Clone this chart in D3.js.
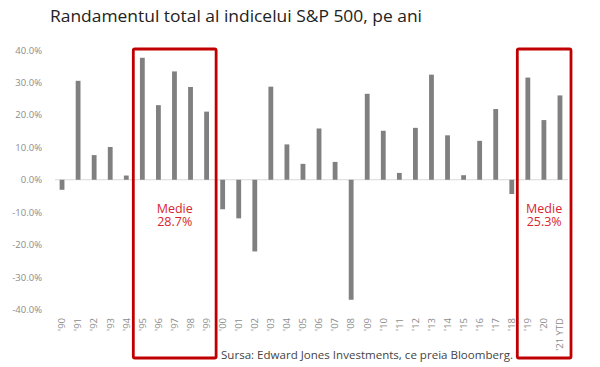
<!DOCTYPE html>
<html>
<head>
<meta charset="utf-8">
<script src="https://cdn.jsdelivr.net/npm/d3@7"></script>
<style>
  html, body { margin: 0; padding: 0; background: #fff; }
  svg { display: block; }
</style>
</head>
<body>
<svg id="chart" width="600" height="367"></svg>
<script>
const years = ["'90","'91","'92","'93","'94","'95","'96","'97","'98","'99",
  "'00","'01","'02","'03","'04","'05","'06","'07","'08","'09",
  "'10","'11","'12","'13","'14","'15","'16","'17","'18","'19","'20","'21 YTD"];
const returns = [-3.1, 30.5, 7.6, 10.1, 1.3, 37.6, 23.0, 33.4, 28.6, 21.0,
  -9.1, -11.9, -22.1, 28.7, 10.9, 4.9, 15.8, 5.5, -37.0, 26.5,
  15.1, 2.1, 16.0, 32.4, 13.7, 1.4, 12.0, 21.8, -4.4, 31.5, 18.4, 26.0];
const yTicks = [40, 30, 20, 10, 0, -10, -20, -30, -40];
const periods = [
  { from: "'95", to: "'99", label: "Medie", value: "28.7%" },
  { from: "'19", to: "'21 YTD", label: "Medie", value: "25.3%" }
];
const titleText = "Randamentul total al indicelui S&P 500, pe ani";
const sourceText = "Sursa: Edward Jones Investments, ce preia Bloomberg.";

const svg = d3.select("#chart");
const x = d3.scaleBand().domain(years).range([54, 568]).paddingInner(0.7).paddingOuter(0.35);
const y = d3.scaleLinear().domain([-40, 40]).range([309.5, 50]);

// title
svg.append("text")
  .attr("x", 50).attr("y", 22)
  .attr("font-family", "Open Sans, sans-serif")
  .attr("font-size", 17)
  .attr("fill", "#222")
  .attr("textLength", 372)
  .attr("lengthAdjust", "spacingAndGlyphs")
  .text(titleText);

// y axis labels
const yAxis = d3.axisLeft(y).tickValues(yTicks).tickSize(0).tickPadding(0)
  .tickFormat(d => d.toFixed(1) + "%");
const yg = svg.append("g").attr("transform", "translate(42,0)").call(yAxis);
yg.select(".domain").remove();
yg.selectAll("text")
  .attr("font-family", "Open Sans, sans-serif")
  .attr("font-size", 9.5)
  .attr("fill", "#8c8c8c");

// zero line
svg.append("line")
  .attr("x1", 55).attr("x2", 568)
  .attr("y1", y(0)).attr("y2", y(0))
  .attr("stroke", "#d9d9d9").attr("stroke-width", 1.2);

// bars
svg.append("g").selectAll("rect")
  .data(years.map((yr, i) => ({ yr, v: returns[i] })))
  .join("rect")
  .attr("x", d => x(d.yr))
  .attr("width", x.bandwidth())
  .attr("y", d => y(Math.max(0, d.v)))
  .attr("height", d => Math.abs(y(d.v) - y(0)))
  .attr("fill", "#808080");

// x labels
const xAxis = d3.axisBottom(x).tickSize(0).tickPadding(0);
const xg = svg.append("g").call(xAxis);
xg.select(".domain").remove();
xg.selectAll(".tick text")
  .attr("transform", "translate(0,318) rotate(-90)")
  .attr("x", 0).attr("y", 0).attr("dy", "0.35em")
  .attr("text-anchor", "end")
  .attr("font-family", "Open Sans, sans-serif")
  .attr("font-size", 9.5)
  .attr("fill", "#8c8c8c");

// source
svg.append("text")
  .attr("x", 221).attr("y", 359)
  .attr("font-family", "Open Sans, sans-serif")
  .attr("font-size", 11.5)
  .attr("fill", "#444")
  .attr("textLength", 292)
  .attr("lengthAdjust", "spacingAndGlyphs")
  .text(sourceText);

// red boxes
const step = x.step();
periods.forEach((p, i) => {
  const x0 = x(p.from) - (step - x.bandwidth()) / 2 - 1 - (i === 1 ? 1.5 : 0);
  const x1 = x(p.to) + x.bandwidth() + (step - x.bandwidth()) / 2 + 1.5 + (i === 1 ? 1.5 : 0);
  svg.append("rect")
    .attr("x", x0).attr("y", 49)
    .attr("width", x1 - x0).attr("height", 358 - 49)
    .attr("rx", 1.5)
    .attr("fill", "none")
    .attr("stroke", "#c00000")
    .attr("stroke-width", 2.8);
  const cx = (x0 + x1) / 2;
  const t = svg.append("text")
    .attr("text-anchor", "middle")
    .attr("font-family", "Open Sans, sans-serif").attr("font-size", 12.5)
    .attr("fill", "#d7262e");
  t.append("tspan").attr("x", cx).attr("y", 212.5).text(p.label);
  t.append("tspan").attr("x", cx).attr("y", 226).text(p.value);
});
</script>
</body>
</html>
